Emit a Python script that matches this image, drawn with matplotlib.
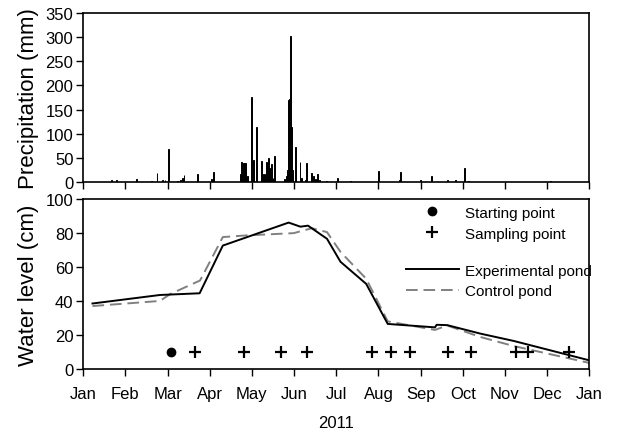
import numpy as np
import matplotlib
matplotlib.use('Agg')
import matplotlib.pyplot as plt
from matplotlib.lines import Line2D

plt.rcParams['font.family'] = ['Liberation Sans', 'DejaVu Sans']

# x positions are in months from 1 Jan 2011 (0 = Jan, 12 = next Jan)
months = ['Jan', 'Feb', 'Mar', 'Apr', 'May', 'Jun', 'Jul', 'Aug', 'Sep', 'Oct', 'Nov', 'Dec', 'Jan']

# daily rainfall (mm)
rain_t = [0.66, 0.79, 1.26, 1.63, 1.75, 1.88, 1.94, 2.02, 2.23, 2.31, 2.36, 2.39, 2.70,
          3.04, 3.08, 3.73, 3.76, 3.79, 3.82, 3.85, 3.90, 3.99, 4.03, 4.11, 4.23, 4.26,
          4.30, 4.35, 4.39, 4.42, 4.46, 4.50, 4.54, 4.77, 4.81, 4.84, 4.86, 4.89, 4.91,
          4.94, 4.96, 5.04, 5.14, 5.18, 5.27, 5.30, 5.42, 5.45, 5.50, 5.55, 5.60, 5.76,
          6.02, 6.34, 7.01, 7.50, 7.53, 8.00, 8.26, 8.64, 8.82, 9.04, 9.14, 11.09]
rain_mm = [5, 5, 6, 2, 19, 5, 5, 69, 3, 5, 9, 14, 16,
           7, 21, 17, 41, 39, 39, 40, 12, 177, 45, 115, 43, 16,
           16, 41, 50, 30, 38, 8, 54, 6, 12, 26, 170, 171, 302,
           115, 26, 73, 42, 9, 5, 39, 18, 12, 6, 16, 4, 3,
           8, 2, 23, 5, 20, 5, 12, 5, 5, 29, 3, 3]

# water level (cm)
exp_t = [0.22, 1.82, 2.76, 3.31, 4.87, 5.15, 5.33, 5.78, 6.10, 6.71, 7.22, 8.34, 8.38, 8.63, 9.42, 10.21, 12.02]
exp_cm = [38.5, 43.5, 44.5, 72.5, 86, 83.6, 84.2, 76.5, 63, 50, 26.5, 24.5, 26, 25.8, 20.8, 16.5, 5]
ctl_t = [0.22, 1.82, 2.06, 2.77, 3.31, 3.88, 4.99, 5.42, 5.78, 6.10, 6.71, 7.22, 8.34, 8.63, 9.42, 10.21, 12.02]
ctl_cm = [37, 40, 44, 52, 77.5, 78.5, 79.8, 82.7, 80.4, 68.8, 53, 28, 23, 25.6, 18.8, 13.5, 3.5]

start_t = [2.09]
sample_t = [2.65, 3.81, 4.68, 5.30, 6.84, 7.29, 7.75, 8.66, 9.19, 10.26, 10.55, 11.51]
marker_cm = 10

fig = plt.figure(figsize=(6.21, 4.39), dpi=100)
ax1 = fig.add_axes([0.134, 0.583, 0.815, 0.385])
ax2 = fig.add_axes([0.134, 0.157, 0.815, 0.388])

ax1.bar(rain_t, rain_mm, width=0.022, color='black', edgecolor='black', linewidth=0.7)
ax1.set_xlim(0, 12)
ax1.set_ylim(0, 350)
ax1.set_yticks(np.arange(0, 351, 50))
ax1.set_xticks(np.arange(13))
ax1.set_xticklabels([])
ax1.set_ylabel('Precipitation (mm)', fontsize=16, labelpad=5)

ax2.plot(ctl_t, ctl_cm, color='#808080', lw=1.4, dashes=(6, 3), label='Control pond')
ax2.plot(exp_t, exp_cm, color='black', lw=1.4, label='Experimental pond')
ax2.plot(start_t, [marker_cm] * len(start_t), 'o', color='black', ms=6)
ax2.plot(sample_t, [marker_cm] * len(sample_t), '+', color='black', ms=8, mew=1.6)
ax2.set_xlim(0, 12)
ax2.set_ylim(0, 100)
ax2.set_yticks(np.arange(0, 101, 20))
ax2.set_xticks(np.arange(13))
ax2.set_xticklabels(months)
ax2.set_ylabel('Water level (cm)', fontsize=16, labelpad=5)
ax2.set_xlabel('2011', fontsize=12, labelpad=10)

for ax in (ax1, ax2):
    ax.tick_params(direction='out', length=5, width=1, labelsize=12, pad=2)
    ax.tick_params(axis='x', pad=7)
    for s in ax.spines.values():
        s.set_linewidth(1.2)

# two-part key: sampling markers on top, pond lines below
pt_handles = [Line2D([], [], ls='none', marker='o', color='black', ms=6),
              Line2D([], [], ls='none', marker='+', color='black', ms=8, mew=1.6)]
leg1 = ax2.legend(pt_handles, ['Starting point', 'Sampling point'], loc='upper left',
                  bbox_to_anchor=(0.61, 1.04), frameon=False, fontsize=11,
                  handlelength=3.5, handletextpad=0.4, labelspacing=0.45)
ax2.add_artist(leg1)
ln_handles = [Line2D([], [], color='black', lw=1.4),
              Line2D([], [], color='#808080', lw=1.4, dashes=(6, 3))]
ax2.legend(ln_handles, ['Experimental pond', 'Control pond'], loc='upper left',
           bbox_to_anchor=(0.61, 0.70), frameon=False, fontsize=11,
           handlelength=3.5, handletextpad=0.4, labelspacing=0.45)

fig.savefig('out.png', dpi=100)
